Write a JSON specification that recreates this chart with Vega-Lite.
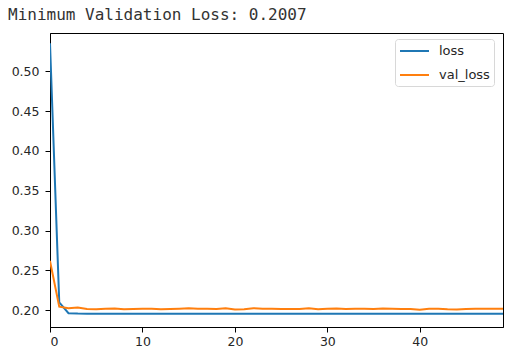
{
  "$schema": "https://vega.github.io/schema/vega-lite/v6.json",
  "width": 453,
  "height": 294,
  "autosize": {"type": "none"},
  "padding": {"left": 50, "top": 33, "right": 15, "bottom": 29},
  "background": "white",
  "title": {
    "text": "Minimum Validation Loss: 0.2007",
    "anchor": "start",
    "frame": "group",
    "dx": -42,
    "offset": 10,
    "font": "DejaVu Sans Mono",
    "fontSize": 16,
    "fontWeight": "normal",
    "color": "#333333"
  },
  "data": {
    "values": [
      {"epoch": 0, "loss": 0.535, "val_loss": 0.262},
      {"epoch": 1, "loss": 0.210, "val_loss": 0.2045},
      {"epoch": 2, "loss": 0.1963, "val_loss": 0.2025},
      {"epoch": 3, "loss": 0.1958, "val_loss": 0.2035},
      {"epoch": 4, "loss": 0.1957, "val_loss": 0.2015},
      {"epoch": 5, "loss": 0.1957, "val_loss": 0.2012},
      {"epoch": 6, "loss": 0.1957, "val_loss": 0.2018},
      {"epoch": 7, "loss": 0.1956, "val_loss": 0.2022},
      {"epoch": 8, "loss": 0.1956, "val_loss": 0.2012},
      {"epoch": 9, "loss": 0.1956, "val_loss": 0.2015},
      {"epoch": 10, "loss": 0.1956, "val_loss": 0.2018},
      {"epoch": 11, "loss": 0.1956, "val_loss": 0.2020},
      {"epoch": 12, "loss": 0.1956, "val_loss": 0.2012},
      {"epoch": 13, "loss": 0.1956, "val_loss": 0.2017},
      {"epoch": 14, "loss": 0.1956, "val_loss": 0.2020},
      {"epoch": 15, "loss": 0.1956, "val_loss": 0.2025},
      {"epoch": 16, "loss": 0.1956, "val_loss": 0.2018},
      {"epoch": 17, "loss": 0.1956, "val_loss": 0.2020},
      {"epoch": 18, "loss": 0.1956, "val_loss": 0.2017},
      {"epoch": 19, "loss": 0.1956, "val_loss": 0.2024},
      {"epoch": 20, "loss": 0.1956, "val_loss": 0.2010},
      {"epoch": 21, "loss": 0.1956, "val_loss": 0.2014},
      {"epoch": 22, "loss": 0.1956, "val_loss": 0.2026},
      {"epoch": 23, "loss": 0.1956, "val_loss": 0.2020},
      {"epoch": 24, "loss": 0.1956, "val_loss": 0.2018},
      {"epoch": 25, "loss": 0.1956, "val_loss": 0.2015},
      {"epoch": 26, "loss": 0.1956, "val_loss": 0.2016},
      {"epoch": 27, "loss": 0.1956, "val_loss": 0.2015},
      {"epoch": 28, "loss": 0.1956, "val_loss": 0.2025},
      {"epoch": 29, "loss": 0.1956, "val_loss": 0.2014},
      {"epoch": 30, "loss": 0.1956, "val_loss": 0.2020},
      {"epoch": 31, "loss": 0.1956, "val_loss": 0.2022},
      {"epoch": 32, "loss": 0.1956, "val_loss": 0.2016},
      {"epoch": 33, "loss": 0.1956, "val_loss": 0.2020},
      {"epoch": 34, "loss": 0.1956, "val_loss": 0.2018},
      {"epoch": 35, "loss": 0.1956, "val_loss": 0.2015},
      {"epoch": 36, "loss": 0.1956, "val_loss": 0.2022},
      {"epoch": 37, "loss": 0.1956, "val_loss": 0.2018},
      {"epoch": 38, "loss": 0.1956, "val_loss": 0.2016},
      {"epoch": 39, "loss": 0.1956, "val_loss": 0.2015},
      {"epoch": 40, "loss": 0.1956, "val_loss": 0.2007},
      {"epoch": 41, "loss": 0.1956, "val_loss": 0.2018},
      {"epoch": 42, "loss": 0.1956, "val_loss": 0.2020},
      {"epoch": 43, "loss": 0.1956, "val_loss": 0.2012},
      {"epoch": 44, "loss": 0.1956, "val_loss": 0.2010},
      {"epoch": 45, "loss": 0.1956, "val_loss": 0.2015},
      {"epoch": 46, "loss": 0.1956, "val_loss": 0.2018},
      {"epoch": 47, "loss": 0.1956, "val_loss": 0.2020},
      {"epoch": 48, "loss": 0.1956, "val_loss": 0.2020},
      {"epoch": 49, "loss": 0.1956, "val_loss": 0.2019}
    ]
  },
  "transform": [{"fold": ["loss", "val_loss"], "as": ["series", "value"]}],
  "mark": {"type": "line", "strokeWidth": 2, "clip": true},
  "encoding": {
    "x": {
      "field": "epoch",
      "type": "quantitative",
      "scale": {"domain": [0, 49], "nice": false, "zero": false},
      "axis": {"values": [0, 10, 20, 30, 40], "title": null}
    },
    "y": {
      "field": "value",
      "type": "quantitative",
      "scale": {"domain": [0.179, 0.548], "nice": false, "zero": false},
      "axis": {"values": [0.2, 0.25, 0.3, 0.35, 0.4, 0.45, 0.5], "format": ".2f", "title": null, "labelPadding": 6}
    },
    "color": {
      "field": "series",
      "type": "nominal",
      "scale": {"domain": ["loss", "val_loss"], "range": ["#1f77b4", "#ff7f0e"]},
      "legend": {
        "title": null,
        "orient": "none",
        "legendX": 345,
        "legendY": 6,
        "padding": 4,
        "strokeColor": "#d8d8d8",
        "fillColor": "white",
        "cornerRadius": 3,
        "symbolType": "M-1,0H3.14",
        "symbolSize": 196,
        "symbolStrokeWidth": 2,
        "symbolFillColor": "transparent",
        "rowPadding": 9,
        "labelFont": "DejaVu Sans",
        "labelFontSize": 13,
        "labelColor": "#262626",
        "labelOffset": 24
      }
    }
  },
  "config": {
    "view": {"stroke": "black", "strokeWidth": 1},
    "axis": {
      "grid": false,
      "domainColor": "black",
      "tickColor": "black",
      "tickSize": 5,
      "labelFont": "DejaVu Sans",
      "labelFontSize": 12.5,
      "labelColor": "#262626",
      "labelPadding": 3
    }
  }
}
